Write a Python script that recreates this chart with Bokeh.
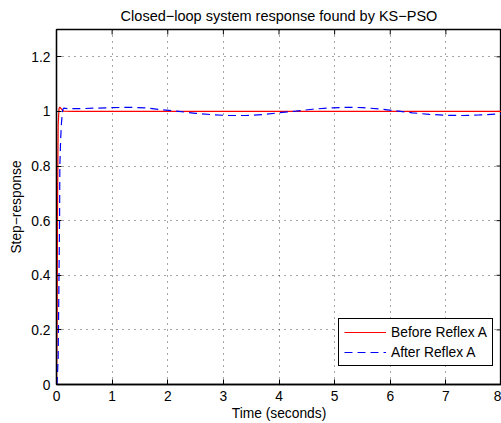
import math
from bokeh.plotting import figure
from bokeh.models import Legend, LegendItem, FixedTicker, Range1d
from bokeh.embed import file_html
from bokeh.resources import INLINE

# ---- data ----
t_before = [0, 0.01, 0.02, 0.03, 0.045, 0.06, 0.09, 0.13, 0.3, 1.0, 2.0, 3.0, 4.0, 5.0, 6.0, 7.0, 8.0]
y_before = [0, 0.2, 0.7, 0.95, 1.01, 1.016, 1.008, 1.001, 1.0, 1.0, 1.0, 1.0, 1.0, 1.0, 1.0, 1.0, 1.0]

t_after = [0, 0.01, 0.03, 0.045, 0.055, 0.06, 0.075, 0.09, 0.11, 0.13, 0.2, 0.4, 0.7,
           1.0, 1.3, 1.6, 1.9, 2.2, 2.5, 2.8, 3.1, 3.4, 3.7, 4.0, 4.3, 4.6, 4.9,
           5.2, 5.5, 5.8, 6.1, 6.4, 6.7, 7.0, 7.3, 7.6, 7.9, 8.0]
y_after = [0, 0.0, 0.1, 0.4, 0.6, 0.8, 0.9, 0.96, 1.005, 1.012, 1.01, 1.01, 1.012,
           1.014, 1.015, 1.013, 1.006, 1.0, 0.993, 0.988, 0.985, 0.985, 0.988, 0.995, 1.001, 1.008, 1.013,
           1.015, 1.014, 1.009, 1.002, 0.995, 0.989, 0.986, 0.985, 0.987, 0.99, 0.991]

x_ticks = [0, 1, 2, 3, 4, 5, 6, 7, 8]
y_ticks = [0, 0.2, 0.4, 0.6, 0.8, 1.0, 1.2]
y_tick_labels = ["0", "0.2", "0.4", "0.6", "0.8", "1", "1.2"]
x_limits = (0, 8)
y_limits = (0, 1.3)

title_text = "Closed\u2212loop system response found by KS\u2212PSO"
x_label = "Time (seconds)"
y_label = "Step\u2212response"
series_names = ["Before Reflex A", "After Reflex A"]

FONT = "Liberation Sans"
FS = "13.8px"

p = figure(width=501, height=423, output_backend="svg", toolbar_location=None,
           x_range=Range1d(*x_limits), y_range=Range1d(*y_limits),
           min_border_left=56, min_border_right=0, min_border_top=29, min_border_bottom=39)

p.title.text = title_text
p.title.text_font = FONT
p.title.text_font_size = "14.5px"
p.title.text_font_style = "normal"
p.title.align = "center"
p.title.text_color = "black"
p.title.standoff = 11

p.outline_line_color = "black"
p.outline_line_width = 1.3
p.background_fill_color = "white"
p.border_fill_color = "white"

# axes
for ax in (p.xaxis[0], p.yaxis[0]):
    ax.major_tick_in = 5
    ax.major_tick_out = 0
    ax.minor_tick_line_color = None
    ax.axis_line_color = "black"
    ax.axis_line_width = 1.3
    ax.major_tick_line_color = "black"
    ax.major_label_text_font = FONT
    ax.major_label_text_font_size = FS
    ax.major_label_text_color = "black"
    ax.axis_label_text_font = FONT
    ax.axis_label_text_font_size = FS
    ax.axis_label_text_font_style = "normal"
    ax.axis_label_text_color = "black"

p.xaxis[0].ticker = FixedTicker(ticks=x_ticks)
p.yaxis[0].ticker = FixedTicker(ticks=y_ticks)
p.yaxis[0].major_label_overrides = {v: s for v, s in zip(y_ticks, y_tick_labels)}
p.xaxis[0].axis_label = x_label
p.yaxis[0].axis_label = y_label
p.xaxis[0].major_label_standoff = 6
p.xaxis[0].axis_label_standoff = 2
p.yaxis[0].major_label_standoff = 6
p.yaxis[0].axis_label_standoff = 4

# grid
for g in (p.xgrid[0], p.ygrid[0]):
    g.grid_line_color = "black"
    g.grid_line_dash = "1 5"
    g.grid_line_alpha = 0.7
    g.grid_line_width = 1
p.xgrid[0].ticker = FixedTicker(ticks=x_ticks)
p.ygrid[0].ticker = FixedTicker(ticks=y_ticks)

# inward tick marks on the top and right edges of the box (clipped to the frame)
p.scatter(x=x_ticks, y=[y_limits[1]] * len(x_ticks), marker="dash", size=10,
          angle=math.pi / 2, line_color="black", line_width=1)
p.scatter(x=[x_limits[1]] * len(y_ticks), y=y_ticks, marker="dash", size=10,
          line_color="black", line_width=1)

r1 = p.line(t_before, y_before, line_color="#ff0000", line_width=1.2)
r2 = p.line(t_after, y_after, line_color="#0000ff", line_width=1.2, line_dash="8 5")

legend = Legend(items=[LegendItem(label=series_names[0], renderers=[r1]),
                       LegendItem(label=series_names[1], renderers=[r2])],
                location=(282, 18), orientation="vertical",
                border_line_color="black", border_line_width=1, border_line_alpha=1,
                background_fill_color="white", background_fill_alpha=1,
                label_text_font=FONT, label_text_font_size=FS, label_text_color="black",
                glyph_width=42, glyph_height=16, label_height=16, label_standoff=5,
                padding=5, spacing=4, margin=0)
p.add_layout(legend, "center")

open("out.html", "w").write(file_html(p, INLINE))
